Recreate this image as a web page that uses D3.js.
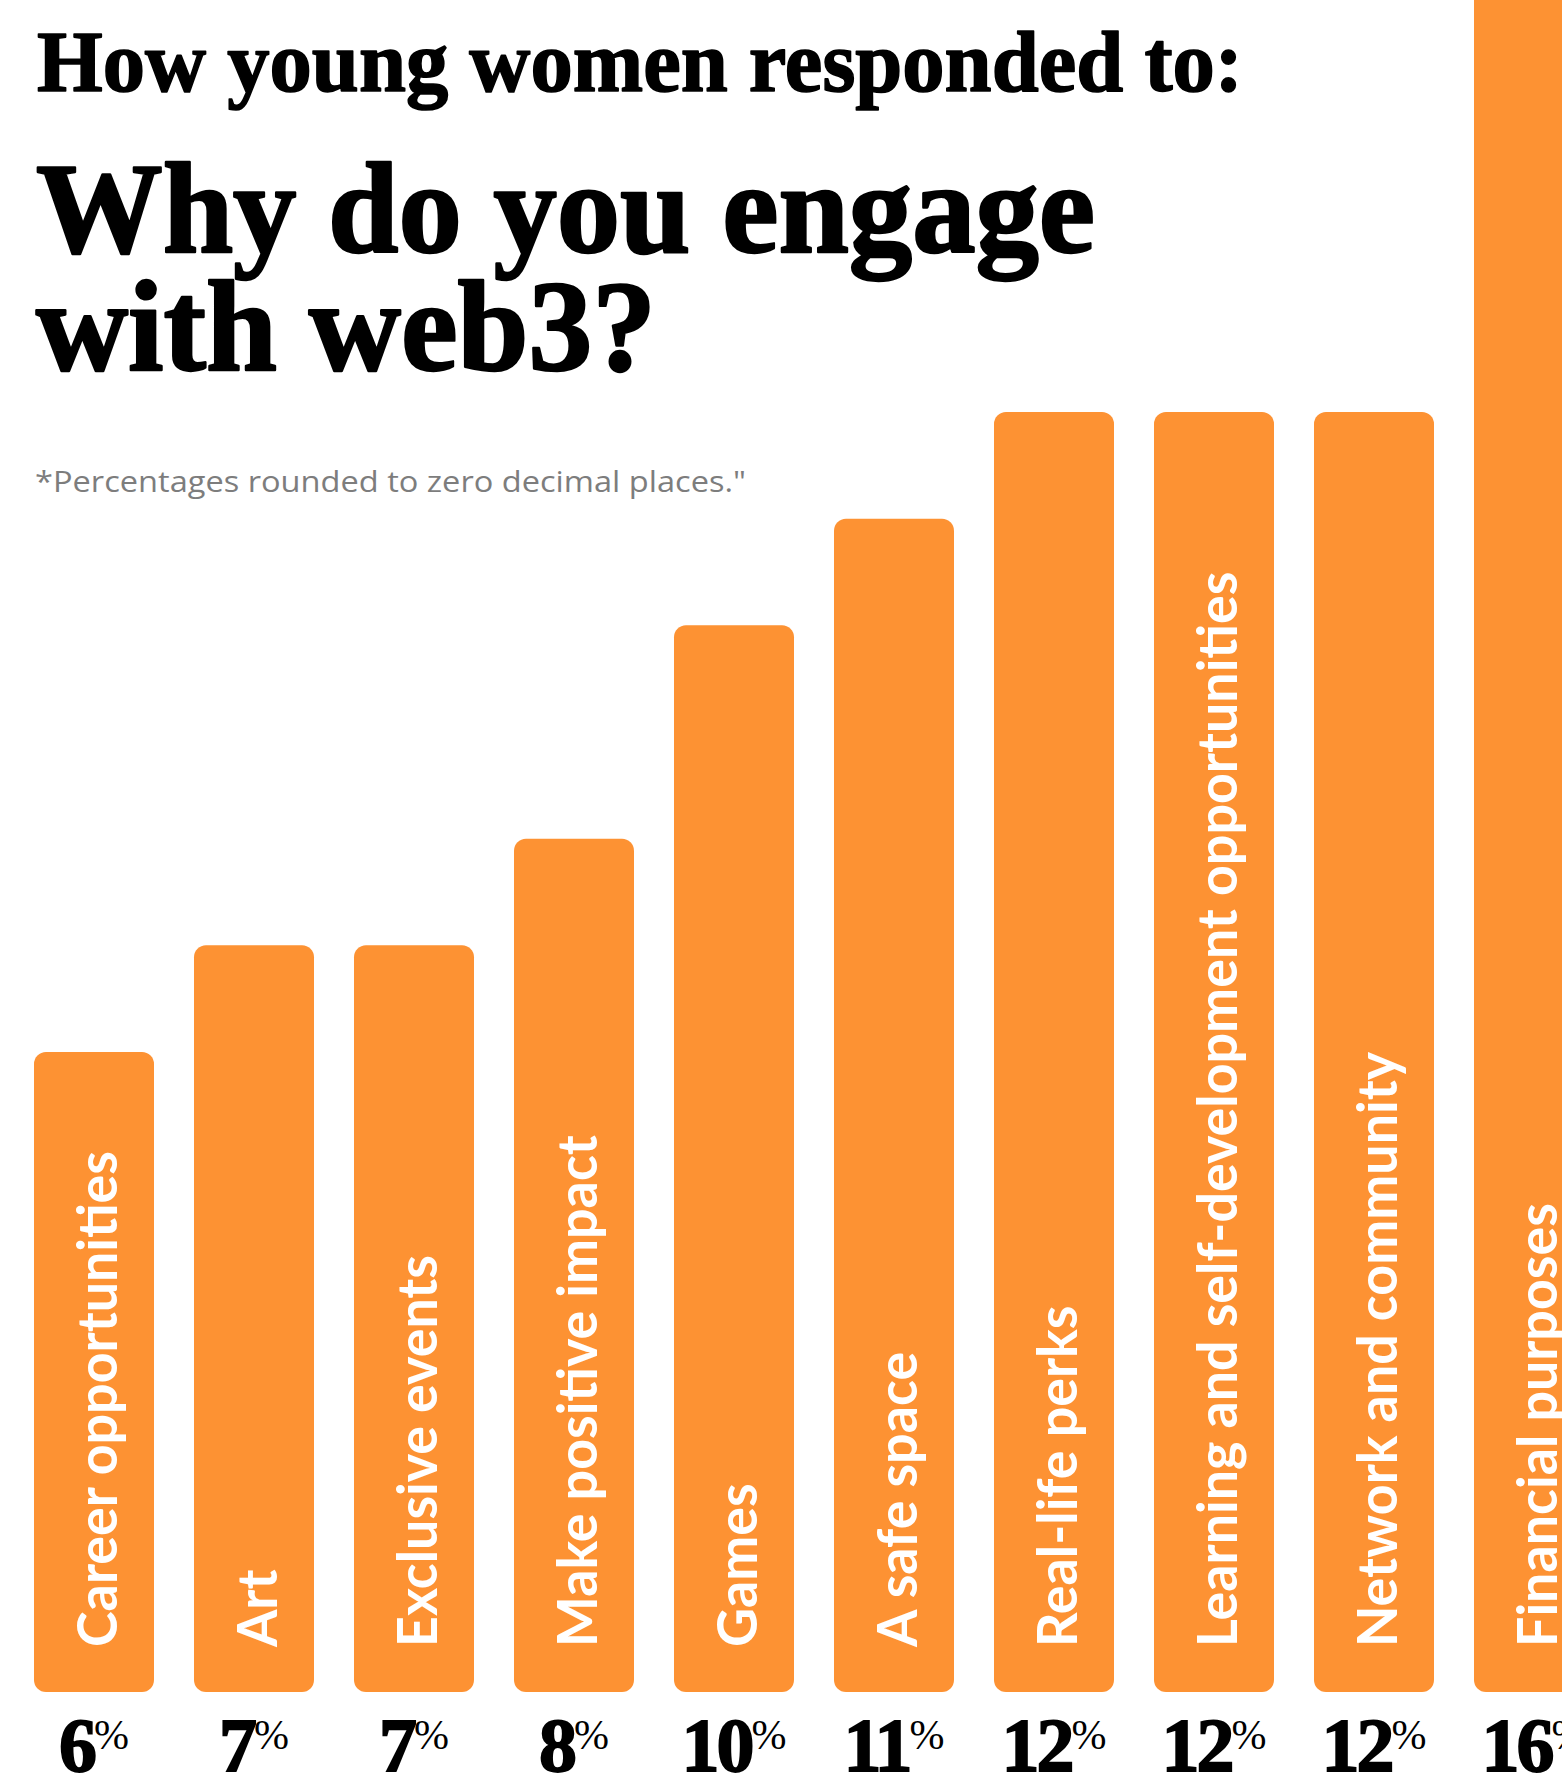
<!DOCTYPE html>
<html>
<head>
<meta charset="utf-8">
<script src="https://cdn.jsdelivr.net/npm/d3@7"></script>
<style>
  html, body { margin: 0; padding: 0; background: #ffffff; }
  svg { display: block; }
</style>
</head>
<body>
<div id="chart"></div>
<script>
// Survey answers, sorted ascending by share
const categories = [
  "Career opportunities",
  "Art",
  "Exclusive events",
  "Make positive impact",
  "Games",
  "A safe space",
  "Real-life perks",
  "Learning and self-development opportunities",
  "Network and community",
  "Financial purposes"
];
const values = [6, 7, 7, 8, 10, 11, 12, 12, 12, 16];
const valueLabels = ["6", "7", "7", "8", "10", "11", "12", "12", "12", "16"];

const kicker = "How young women responded to:";
const headline = ["Why do you engage", "with web3?"];
const footnote = "*Percentages rounded to zero decimal places.\"";

const W = 1562, H = 1773;
const ORANGE = "#fd9233";
const serif = "'Liberation Serif', 'Times New Roman', serif";
const sans = "'Open Sans', 'Noto Sans', Lato, sans-serif";
const labelSans = "Lato, 'Open Sans', sans-serif";

const svg = d3.select("#chart").append("svg")
  .attr("width", W).attr("height", H)
  .attr("viewBox", `0 0 ${W} ${H}`);

// Horizontal band scale: 120px bars on a 160px step
const x = d3.scaleBand()
  .domain(categories)
  .range([34, 1594])
  .paddingInner(0.25)
  .paddingOuter(0);

// Vertical scale, baseline at the bottom of the bars
const y = d3.scaleLinear()
  .domain([0, 12])
  .range([1692, 412]);

function fitText(sel, target) {
  sel.attr("textLength", target).attr("lengthAdjust", "spacingAndGlyphs");
}

// Headings (a thin outline gives the display serif more weight)
svg.append("text")
  .attr("x", 37).attr("y", 91)
  .attr("font-family", serif).attr("font-weight", 700)
  .attr("font-size", 87)
  .attr("fill", "#000").attr("stroke", "#000").attr("stroke-width", 1.6)
  .attr("stroke-linejoin", "round")
  .text(kicker)
  .call(fitText, 1206);

const headLines = [{ t: headline[0], y: 252, w: 1059 }, { t: headline[1], y: 370, w: 620 }];
svg.selectAll("text.headline")
  .data(headLines)
  .join("text")
  .attr("class", "headline")
  .attr("x", 36).attr("y", d => d.y)
  .attr("font-family", serif).attr("font-weight", 700)
  .attr("font-size", 130)
  .attr("fill", "#000").attr("stroke", "#000").attr("stroke-width", 2.4)
  .attr("stroke-linejoin", "round")
  .text(d => d.t)
  .each(function (d) { fitText(d3.select(this), d.w); });

svg.append("text")
  .attr("x", 35).attr("y", 492)
  .attr("font-family", sans).attr("font-weight", 400)
  .attr("font-size", 29)
  .attr("fill", "#7d7d7d")
  .text(footnote)
  .call(fitText, 711);

// Bars
const data = categories.map((c, i) => ({ cat: c, value: values[i], label: valueLabels[i] }));

svg.append("g").attr("class", "bars")
  .selectAll("rect")
  .data(data)
  .join("rect")
  .attr("x", d => x(d.cat))
  .attr("y", d => y(d.value))
  .attr("width", x.bandwidth())
  .attr("height", d => y(0) - y(d.value))
  .attr("rx", 12).attr("ry", 12)
  .attr("fill", ORANGE);

// Category names, rotated inside each bar
const catText = svg.append("g").attr("class", "cat-labels")
  .selectAll("text")
  .data(data)
  .join("text")
  .attr("transform", d => `translate(${x(d.cat) + 83},${y(0) - 45}) rotate(-90)`)
  .attr("font-family", labelSans).attr("font-weight", 700)
  .attr("font-size", 55)
  .attr("fill", "#ffffff")
  .text(d => d.cat);

// Scale the label widths uniformly so "Career opportunities" spans 496px
const refLen = catText.filter(d => d.cat === categories[0]).node().getComputedTextLength();
const k = 496 / refLen;
catText.each(function () {
  const len = this.getComputedTextLength();
  d3.select(this).attr("textLength", len * k).attr("lengthAdjust", "spacingAndGlyphs");
});

// Percentage values under each bar
const valText = svg.append("g").attr("class", "values")
  .selectAll("text")
  .data(data)
  .join("text")
  .attr("x", d => x(d.cat) + x.bandwidth() / 2)
  .attr("y", 1771)
  .attr("text-anchor", "middle")
  .attr("font-family", serif)
  .attr("fill", "#000");

valText.append("tspan")
  .attr("font-size", 76).attr("font-weight", 700)
  .attr("stroke", "#000").attr("stroke-width", 1.8)
  .attr("letter-spacing", -3)
  .text(d => d.label);

valText.append("tspan")
  .attr("font-size", 42).attr("font-weight", 400)
  .attr("dy", -22)
  .text("%");
</script>
</body>
</html>
